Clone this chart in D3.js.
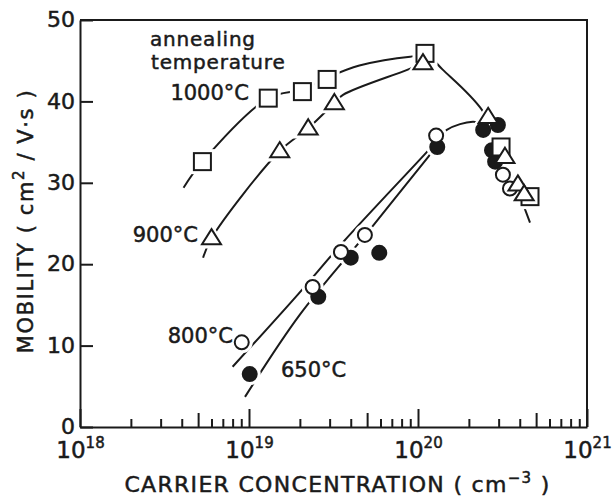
<!DOCTYPE html>
<html lang="en">
<head>
<meta charset="UTF-8">
<title>Mobility vs carrier concentration</title>
<script src="https://cdn.jsdelivr.net/npm/d3@7"></script>
<style>
  body { margin: 0; background: #fff; }
  svg text { font-family: "DejaVu Sans", sans-serif; fill: #1a1a1a; stroke: #1a1a1a; stroke-width: 0.5px; }
  .fit { fill: none; stroke: #1a1a1a; stroke-width: 2px; }
</style>
</head>
<body>
<div id="chart"></div>
<script>
// measured points, [carrier concentration cm^-3, mobility cm2/Vs]
const pts1000 = [[5.3e18,32.6],[1.3e19,40.4],[2.07e19,41.2],[2.9e19,42.7],[1.1e20,45.9],[3.1e20,34.4],[4.6e20,28.3]];
const pts900 = [[6.0e18,23.2],[1.52e19,33.9],[2.24e19,36.7],[3.2e19,39.8],[1.07e20,44.7],[2.6e20,38.1],[3.27e20,33.2],[3.9e20,29.8],[4.25e20,28.6]];
const pts800 = [[9.06e18,10.4],[2.38e19,17.2],[3.5e19,21.5],[4.85e19,23.6],[1.28e20,35.8],[3.18e20,31.0],[3.5e20,29.3]];
const pts650 = [[1.01e19,6.5],[2.57e19,16.0],[4.0e19,20.8],[5.9e19,21.4],[1.3e20,34.4],[2.43e20,36.5],[2.97e20,37.1],[2.74e20,34.0],[2.86e20,32.6]];

// hand-drawn guide curves
const fit1000 = [[4.1e18,29.4],[5.3e18,32.6],[1.3e19,40.4],[2.1e19,41.5],[2.9e19,42.9],[4.5e19,44.4],[9e19,45.5],[1.15e20,45.5],[1.4e20,43.9],[2.4e20,38.9],[3.3e20,32.8],[4.6e20,25.1]];
const fit900 = [[5.35e18,20.8],[6.0e18,23.2],[1.52e19,33.9],[2.24e19,36.7],[3.2e19,39.8],[3.6e19,40.8],[8.7e19,43.9],[1.1e20,44.8]];
const fit800 = [[8.0e18,7.4],[1.95e19,16.3],[3.6e19,22.7],[1.13e20,33.8],[1.48e20,36.5],[2.11e20,37.5],[2.45e20,37.2]];
const fit650 = [[9.47e18,3.7],[2.0e19,13.8],[5.35e19,24.6],[1.15e20,33.2],[1.3e20,34.6]];

const xMajor = [1e18, 1e19, 1e20, 1e21];
const yTicks = [0, 10, 20, 30, 40, 50];

const W = 616, H = 497;
const plotL = 80, plotR = 587, plotT = 20, plotB = 427;

const svg = d3.select("#chart").append("svg")
    .attr("width", W).attr("height", H);

const x = d3.scaleLog().domain([1e18, 1e21]).range([plotL, plotR]);
const y = d3.scaleLinear().domain([0, 50]).range([plotB, plotT]);

// all ticks: majors plus 2..9 in each decade
let xAll = [];
xMajor.forEach((m, i) => {
    xAll.push(m);
    if (i < xMajor.length - 1) for (let k = 2; k <= 9; k++) xAll.push(k * m);
});

const gx = svg.append("g")
    .attr("transform", `translate(0,${plotB})`)
    .call(d3.axisBottom(x).tickValues(xAll).tickSizeOuter(0).tickFormat(""));
gx.selectAll(".tick line")
    .attr("y2", d => {
        const m = d / Math.pow(10, Math.floor(Math.log10(d) + 1e-9));
        if (Math.abs(m - 1) < 1e-6) return -18;
        if (Math.abs(m - 5) < 1e-6) return -14;
        return -8;
    });

// x tick labels: 10 with superscript exponent
gx.selectAll(".tick")
    .filter(d => xMajor.includes(d))
    .append("text")
    .attr("y", 31)
    .attr("text-anchor", "middle")
    .style("font-size", "23px")
    .each(function(d) {
        const t = d3.select(this);
        t.append("tspan").text("10");
        t.append("tspan").attr("dy", -10).style("font-size", "15px")
            .text(Math.round(Math.log10(d)));
    });

const gy = svg.append("g")
    .attr("transform", `translate(${plotL},0)`)
    .call(d3.axisLeft(y).tickValues(yTicks).tickSizeInner(-13).tickSizeOuter(0).tickPadding(5));
gy.selectAll(".tick text").style("font-size", "22px").attr("dy", "0.3em");

svg.selectAll(".domain, .tick line")
    .attr("stroke", "#1a1a1a").attr("stroke-width", 2);

// frame top and right
svg.append("path")
    .attr("d", `M${plotL},${plotT}H${plotR}V${plotB}`)
    .attr("fill", "none").attr("stroke", "#1a1a1a").attr("stroke-width", 2);

// guide curves
const line = d3.line()
    .x(d => x(d[0])).y(d => y(d[1]))
    .curve(d3.curveCatmullRom.alpha(0.5));

[fit1000, fit900, fit800, fit650].forEach(f => {
    svg.append("path").attr("class", "fit").attr("d", line(f));
});

// marker shapes
const sq = 8.5, tri = 9.5, rc = 7;
function shape(g, type, d, halo) {
    const cx = x(d[0]), cy = y(d[1]);
    const extra = halo ? 4 : 0;
    let el;
    if (type === "square") {
        el = g.append("rect")
            .attr("x", cx - sq - extra).attr("y", cy - sq - extra)
            .attr("width", 2 * (sq + extra)).attr("height", 2 * (sq + extra));
    } else if (type === "triangle") {
        const r = tri + extra * 1.6;
        const h = r * Math.sqrt(3) / 2;
        el = g.append("path")
            .attr("d", `M${cx},${cy - r * 0.95}L${cx + r},${cy + h * 0.75}L${cx - r},${cy + h * 0.75}Z`);
    } else {
        el = g.append("circle").attr("cx", cx).attr("cy", cy).attr("r", rc + extra);
    }
    if (halo) {
        el.attr("fill", "#fff").attr("stroke", "none");
    } else {
        el.attr("fill", type === "filled" ? "#1a1a1a" : "#fff")
            .attr("stroke", "#1a1a1a").attr("stroke-width", 2);
    }
}

const series = [
    { type: "filled", data: pts650 },
    { type: "open", data: pts800 },
    { type: "square", data: pts1000 },
    { type: "triangle", data: pts900 }
];

const haloG = svg.append("g");
series.forEach(s => s.data.forEach(d => shape(haloG, s.type, d, true)));
const markG = svg.append("g");
series.forEach(s => s.data.forEach(d => shape(markG, s.type, d, false)));

// annotations
const ann = svg.append("g").style("font-size", "20px");
ann.append("text").attr("x", 150).attr("y", 46).style("letter-spacing", "0.8px").text("annealing");
ann.append("text").attr("x", 151).attr("y", 69).style("letter-spacing", "0.8px").text("temperature");
ann.append("text").attr("x", 249).attr("y", 100).attr("text-anchor", "end").style("font-size", "21px").text("1000°C");
ann.append("text").attr("x", 198).attr("y", 242).attr("text-anchor", "end").style("font-size", "21px").text("900°C");
ann.append("text").attr("x", 233).attr("y", 343).attr("text-anchor", "end").style("font-size", "21px").text("800°C");
ann.append("text").attr("x", 281).attr("y", 377).style("font-size", "21px").text("650°C");

// axis titles
const xt = svg.append("text")
    .attr("x", (123 + 552) / 2).attr("y", 492)
    .attr("text-anchor", "middle")
    .style("font-size", "22px")
    .style("letter-spacing", "1.3px");
xt.append("tspan").text("CARRIER  CONCENTRATION  ( cm");
xt.append("tspan").attr("dy", -9).style("font-size", "15px").text("−3");
xt.append("tspan").attr("dy", 9).text(" )");

const yt = svg.append("text")
    .attr("transform", "translate(33,221) rotate(-90)")
    .attr("text-anchor", "middle")
    .style("font-size", "21px")
    .style("letter-spacing", "1.6px");
yt.append("tspan").text("MOBILITY  ( cm");
yt.append("tspan").attr("dy", -9).style("font-size", "15px").text("2");
yt.append("tspan").attr("dy", 9).text(" / V·s )");
</script>
</body>
</html>
